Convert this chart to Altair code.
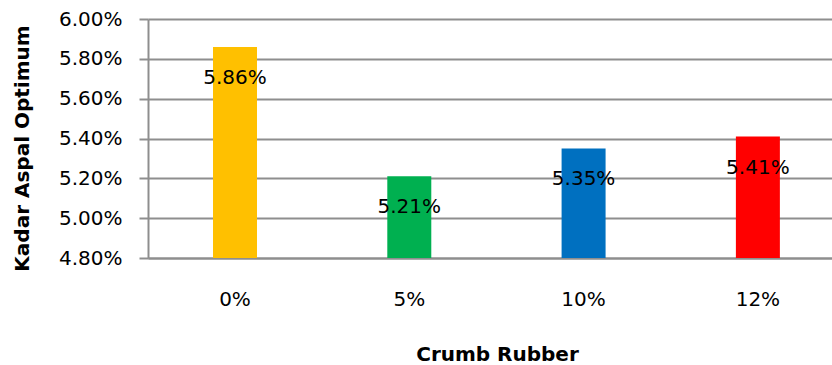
import altair as alt
import pandas as pd

# Optimum asphalt content for each crumb-rubber dosage
categories = ["0%", "5%", "10%", "12%"]
values = [0.0586, 0.0521, 0.0535, 0.0541]
colors = ["#FFC000", "#00B050", "#0070C0", "#FF0000"]

y_ticks = [0.048, 0.050, 0.052, 0.054, 0.056, 0.058, 0.060]
y_floor = 0.048

df = pd.DataFrame({"crumb": categories, "kadar": values, "warna": colors})

FONT = "DejaVu Sans"
GRID = "#8E8E8E"

x_enc = alt.X(
    "crumb:N",
    sort=categories,
    scale=alt.Scale(paddingInner=0.7476, paddingOuter=0.336, align=0.555),
    axis=alt.Axis(
        title="Crumb Rubber",
        labelAngle=0,
        labelFont=FONT,
        labelFontSize=20,
        labelColor="#000000",
        labelPadding=31,
        labelOverlap=False,
        ticks=False,
        domainColor=GRID,
        domainWidth=2,
        titleFont=FONT,
        titleFontSize=20,
        titleFontWeight="bold",
        titleColor="#000000",
        titleBaseline="alphabetic",
        titleAlign="center",
        titleX=349,
        titleY=102,
    ),
)

y_enc = alt.Y(
    "kadar:Q",
    scale=alt.Scale(domain=[0.048, 0.060], zero=False, nice=False),
    axis=alt.Axis(
        title="Kadar Aspal Optimum",
        values=y_ticks,
        tickCount=len(y_ticks),
        format=".2%",
        labelFont=FONT,
        labelFontSize=20,
        labelColor="#000000",
        labelPadding=17,
        labelOverlap=False,
        tickSize=9,
        tickColor=GRID,
        tickWidth=2,
        domainColor=GRID,
        domainWidth=2,
        grid=True,
        gridColor=GRID,
        gridWidth=2,
        titleFont=FONT,
        titleFontSize=20,
        titleFontWeight="bold",
        titleColor="#000000",
        titleAngle=270,
        titleBaseline="alphabetic",
        titleAlign="center",
        titleX=-120,
        titleY=129,
    ),
)

bars = alt.Chart(df).mark_bar().encode(
    x=x_enc,
    y=y_enc,
    y2=alt.datum(y_floor),
    color=alt.Color("warna:N", scale=None, legend=None),
)

labels = alt.Chart(df).mark_text(
    font=FONT, fontSize=20, color="#000000", baseline="middle", dy=31
).encode(
    x=alt.X("crumb:N", sort=categories),
    y=alt.Y("kadar:Q"),
    text=alt.Text("kadar:Q", format=".2%"),
)

chart = (
    alt.layer(bars, labels)
    .properties(
        width=684,
        height=239,
        autosize=alt.AutoSizeParams(type="none"),
        padding={"left": 148, "top": 19, "right": 0, "bottom": 107},
        background="#FFFFFF",
    )
    .configure_view(stroke=None)
)

chart.save("out.html", embed_options={"renderer": "svg", "actions": False})
